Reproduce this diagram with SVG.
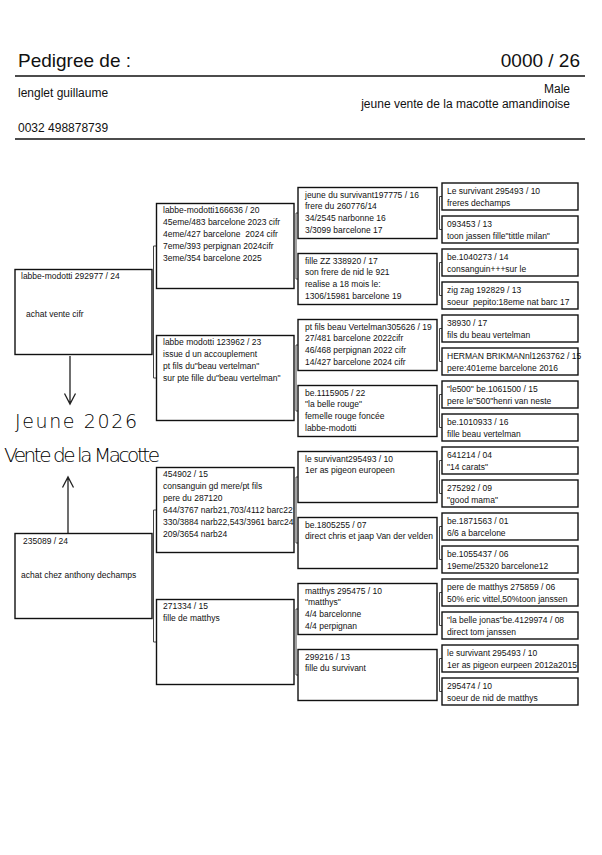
<svg xmlns="http://www.w3.org/2000/svg" width="602" height="855" viewBox="0 0 602 855">
<style>
.box{fill:#fff;stroke:#111;stroke-width:1.4}
.t{font-family:"Liberation Sans",Arial,sans-serif;font-size:8.5px;fill:#111;white-space:pre}
.h{font-family:"Liberation Sans",Arial,sans-serif;fill:#111;white-space:pre}
.br{fill:none;stroke:#444;stroke-width:1}
.rule{stroke:#111;stroke-width:1.5}
.hw{font-family:"DejaVu Sans",sans-serif;font-weight:200;fill:#000}
.arr{fill:none;stroke:#222;stroke-width:1.3}
</style>
<rect width="602" height="855" fill="#fff"/>
<g id="header">
<text class="h" x="18" y="67" font-size="19">Pedigree de :</text>
<text class="h" x="580" y="67" font-size="19" text-anchor="end">0000 / 26</text>
<line class="rule" x1="15" y1="76" x2="585" y2="76"/>
<text class="h" x="18" y="97" font-size="12">lenglet guillaume</text>
<text class="h" x="570" y="93" font-size="12" text-anchor="end">Male</text>
<text class="h" x="570" y="107.5" font-size="12" text-anchor="end">jeune vente de la macotte amandinoise</text>
<text class="h" x="18" y="132" font-size="12">0032 498878739</text>
<line class="rule" x1="15" y1="139" x2="585" y2="139"/>
</g>
<g id="connectors">
<path class="br" d="M156.5,246H153.5V378H156.5"/>
<path class="br" d="M156.5,510H153.5V642H156.5"/>
<path class="br" d="M298,213H296V279H298"/>
<path class="br" d="M298,345H296V411H298"/>
<path class="br" d="M298,477H296V543H298"/>
<path class="br" d="M298,609H296V675H298"/>
<path class="br" d="M442,196.5H439.5V229.5H442"/>
<path class="br" d="M442,262.5H439.5V295.5H442"/>
<path class="br" d="M442,328.5H439.5V361.5H442"/>
<path class="br" d="M442,394.5H439.5V427.5H442"/>
<path class="br" d="M442,460.5H439.5V493.5H442"/>
<path class="br" d="M442,526.5H439.5V559.5H442"/>
<path class="br" d="M442,592.5H439.5V625.5H442"/>
<path class="br" d="M442,658.5H439.5V691.5H442"/>
</g>
<g id="annotation">
<path class="arr" d="M70,356V404M64.5,393.5L70,404L75.5,393.5"/>
<path class="arr" d="M68,534V477M62.5,487.5L68,477L73.5,487.5"/>
<text class="hw" x="15" y="428" font-size="19" textLength="122" lengthAdjust="spacing">Jeune 2026</text>
<text class="hw" x="4" y="462" font-size="20" textLength="156" lengthAdjust="spacing">Vente de la Macotte</text>
</g>
<g id="g1a"><rect class="box" x="15" y="269.5" width="137" height="85"/>
<text class="t"><tspan x="21" y="279">labbe-modotti 292977 / 24</tspan><tspan x="26" y="317">achat vente cifr</tspan></text></g>
<g id="g1b"><rect class="box" x="15" y="533.5" width="137" height="85"/>
<text class="t"><tspan x="23" y="544">235089 / 24</tspan><tspan x="21" y="578">achat chez anthony dechamps</tspan></text></g>
<g id="g2a"><rect class="box" x="156.5" y="203.5" width="137.5" height="85"/>
<text class="t"><tspan x="163" y="213">labbe-modotti166636 / 20</tspan><tspan x="163" y="225">45eme/483 barcelone 2023 cifr</tspan><tspan x="163" y="237">4eme/427 barcelone  2024 cifr</tspan><tspan x="163" y="249">7eme/393 perpignan 2024cifr</tspan><tspan x="163" y="261">3eme/354 barcelone 2025</tspan></text></g>
<g id="g2b"><rect class="box" x="156.5" y="335.5" width="137.5" height="85"/>
<text class="t"><tspan x="163" y="345">labbe modotti 123962 / 23</tspan><tspan x="163" y="357">issue d un accouplement</tspan><tspan x="163" y="369">pt fils du"beau vertelman"</tspan><tspan x="163" y="381">sur pte fille du"beau vertelman"</tspan></text></g>
<g id="g2c"><rect class="box" x="156.5" y="467.5" width="137.5" height="85"/>
<text class="t"><tspan x="163" y="477">454902 / 15</tspan><tspan x="163" y="489">consanguin gd mere/pt fils</tspan><tspan x="163" y="501">pere du 287120</tspan><tspan x="163" y="513">644/3767 narb21,703/4112 barc22</tspan><tspan x="163" y="525">330/3884 narb22,543/3961 barc24</tspan><tspan x="163" y="537">209/3654 narb24</tspan></text></g>
<g id="g2d"><rect class="box" x="156.5" y="599.5" width="137.5" height="85"/>
<text class="t"><tspan x="163" y="609">271334 / 15</tspan><tspan x="163" y="621">fille de matthys</tspan></text></g>
<g id="g3a"><rect class="box" x="298" y="187.5" width="139" height="51"/>
<text class="t"><tspan x="305" y="197.5">jeune du survivant197775 / 16</tspan><tspan x="305" y="209.3">frere du 260776/14</tspan><tspan x="305" y="221.1">34/2545 narbonne 16</tspan><tspan x="305" y="232.9">3/3099 barcelone 17</tspan></text></g>
<g id="g3b"><rect class="box" x="298" y="253.5" width="139" height="51"/>
<text class="t"><tspan x="305" y="263.5">fille ZZ 338920 / 17</tspan><tspan x="305" y="275.3">son frere de nid le 921</tspan><tspan x="305" y="287.1">realise a 18 mois le:</tspan><tspan x="305" y="298.9">1306/15981 barcelone 19</tspan></text></g>
<g id="g3c"><rect class="box" x="298" y="319.5" width="139" height="51"/>
<text class="t"><tspan x="305" y="329.5">pt fils beau Vertelman305626 / 19</tspan><tspan x="305" y="341.3">27/481 barcelone 2022cifr</tspan><tspan x="305" y="353.1">46/468 perpignan 2022 cifr</tspan><tspan x="305" y="364.9">14/427 barcelone 2024 cifr</tspan></text></g>
<g id="g3d"><rect class="box" x="298" y="385.5" width="139" height="51"/>
<text class="t"><tspan x="305" y="395.5">be.1115905 / 22</tspan><tspan x="305" y="407.3">"la belle rouge"</tspan><tspan x="305" y="419.1">femelle rouge foncée</tspan><tspan x="305" y="430.9">labbe-modotti</tspan></text></g>
<g id="g3e"><rect class="box" x="298" y="451.5" width="139" height="51"/>
<text class="t"><tspan x="305" y="461.5">le survivant295493 / 10</tspan><tspan x="305" y="473.3">1er as pigeon europeen</tspan></text></g>
<g id="g3f"><rect class="box" x="298" y="517.5" width="139" height="51"/>
<text class="t"><tspan x="305" y="527.5">be.1805255 / 07</tspan><tspan x="305" y="539.3">direct chris et jaap Van der velden</tspan></text></g>
<g id="g3g"><rect class="box" x="298" y="583.5" width="139" height="51"/>
<text class="t"><tspan x="305" y="593.5">matthys 295475 / 10</tspan><tspan x="305" y="605.3">"matthys"</tspan><tspan x="305" y="617.1">4/4 barcelonne</tspan><tspan x="305" y="628.9">4/4 perpignan</tspan></text></g>
<g id="g3h"><rect class="box" x="298" y="649.5" width="139" height="51"/>
<text class="t"><tspan x="305" y="659.5">299216 / 13</tspan><tspan x="305" y="671.3">fille du survivant</tspan></text></g>
<g id="g4a"><rect class="box" x="442" y="183" width="136" height="27"/>
<text class="t"><tspan x="447" y="193.5">Le survivant 295493 / 10</tspan><tspan x="447" y="205.5">freres dechamps</tspan></text></g>
<g id="g4b"><rect class="box" x="442" y="216" width="136" height="27"/>
<text class="t"><tspan x="447" y="226.5">093453 / 13</tspan><tspan x="447" y="238.5">toon jassen fille"tittle milan"</tspan></text></g>
<g id="g4c"><rect class="box" x="442" y="249" width="136" height="27"/>
<text class="t"><tspan x="447" y="259.5">be.1040273 / 14</tspan><tspan x="447" y="271.5">consanguin+++sur le</tspan></text></g>
<g id="g4d"><rect class="box" x="442" y="282" width="136" height="27"/>
<text class="t"><tspan x="447" y="292.5">zig zag 192829 / 13</tspan><tspan x="447" y="304.5">soeur  pepito:18eme nat barc 17</tspan></text></g>
<g id="g4e"><rect class="box" x="442" y="315" width="136" height="27"/>
<text class="t"><tspan x="447" y="325.5">38930 / 17</tspan><tspan x="447" y="337.5">fils du beau vertelman</tspan></text></g>
<g id="g4f"><rect class="box" x="442" y="348" width="136" height="27"/>
<text class="t"><tspan x="447" y="358.5">HERMAN BRIKMANnl1263762 / 15</tspan><tspan x="447" y="370.5">pere:401eme barcelone 2016</tspan></text></g>
<g id="g4g"><rect class="box" x="442" y="381" width="136" height="27"/>
<text class="t"><tspan x="447" y="391.5">"le500" be.1061500 / 15</tspan><tspan x="447" y="403.5">pere le"500"henri van neste</tspan></text></g>
<g id="g4h"><rect class="box" x="442" y="414" width="136" height="27"/>
<text class="t"><tspan x="447" y="424.5">be.1010933 / 16</tspan><tspan x="447" y="436.5">fille beau vertelman</tspan></text></g>
<g id="g4i"><rect class="box" x="442" y="447" width="136" height="27"/>
<text class="t"><tspan x="447" y="457.5">641214 / 04</tspan><tspan x="447" y="469.5">"14 carats"</tspan></text></g>
<g id="g4j"><rect class="box" x="442" y="480" width="136" height="27"/>
<text class="t"><tspan x="447" y="490.5">275292 / 09</tspan><tspan x="447" y="502.5">"good mama"</tspan></text></g>
<g id="g4k"><rect class="box" x="442" y="513" width="136" height="27"/>
<text class="t"><tspan x="447" y="523.5">be.1871563 / 01</tspan><tspan x="447" y="535.5">6/6 a barcelone</tspan></text></g>
<g id="g4l"><rect class="box" x="442" y="546" width="136" height="27"/>
<text class="t"><tspan x="447" y="556.5">be.1055437 / 06</tspan><tspan x="447" y="568.5">19eme/25320 barcelone12</tspan></text></g>
<g id="g4m"><rect class="box" x="442" y="579" width="136" height="27"/>
<text class="t"><tspan x="447" y="589.5">pere de matthys 275859 / 06</tspan><tspan x="447" y="601.5">50% eric vittel,50%toon janssen</tspan></text></g>
<g id="g4n"><rect class="box" x="442" y="612" width="136" height="27"/>
<text class="t"><tspan x="447" y="622.5">"la belle jonas"be.4129974 / 08</tspan><tspan x="447" y="634.5">direct tom janssen</tspan></text></g>
<g id="g4o"><rect class="box" x="442" y="645" width="136" height="27"/>
<text class="t"><tspan x="447" y="655.5">le survivant 295493 / 10</tspan><tspan x="447" y="667.5">1er as pigeon eurpeen 2012a2015</tspan></text></g>
<g id="g4p"><rect class="box" x="442" y="678" width="136" height="27"/>
<text class="t"><tspan x="447" y="688.5">295474 / 10</tspan><tspan x="447" y="700.5">soeur de nid de matthys</tspan></text></g>
</svg>
